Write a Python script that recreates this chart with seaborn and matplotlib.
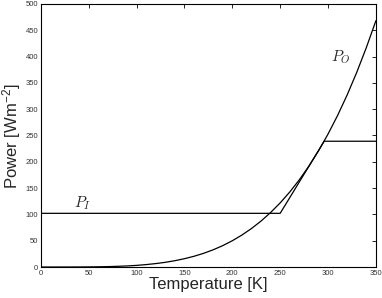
import numpy as np
import pandas as pd
import matplotlib
matplotlib.use("Agg")
import matplotlib.pyplot as plt
import seaborn as sns

# emitted power P_O every 10 K
temp_out = [0, 10, 20, 30, 40, 50, 60, 70, 80, 90, 100, 110, 120, 130, 140, 150, 160, 170,
            180, 190, 200, 210, 220, 230, 240, 250, 260, 270, 280, 290, 300, 310, 320, 330, 340, 350]
power_out = [0, 0, 0, 0.03, 0.08, 0.2, 0.4, 0.75, 1.3, 2.0, 3.1, 4.6, 6.5, 8.9, 12.0, 15.8, 20.4, 26.0,
             32.7, 40.6, 49.9, 60.7, 73.1, 87.3, 103.5, 121.8, 142.5, 165.7, 191.7, 220.6, 252.6, 288.0,
             327.0, 369.9, 416.8, 468.0]

# absorbed power P_I (piecewise)
temp_in = [0, 250, 296, 350]
power_in = [102, 102, 239, 239]

sns.set_style("white")
plt.rcParams["font.family"] = ["Liberation Sans", "DejaVu Sans"]
plt.rcParams["mathtext.fontset"] = "cm"

fig = plt.figure(figsize=(3.82, 2.98), dpi=100)
ax = fig.add_axes([0.107, 0.104, 0.877, 0.883])

df_out = pd.DataFrame({"T": temp_out, "P": power_out})
df_in = pd.DataFrame({"T": temp_in, "P": power_in})
sns.lineplot(data=df_out, x="T", y="P", color="black", lw=0.9, ax=ax)
sns.lineplot(data=df_in, x="T", y="P", color="black", lw=0.9, ax=ax)

ax.set_xlim(0, 350)
ax.set_ylim(0, 500)
ax.set_xticks(np.arange(0, 351, 50))
ax.set_yticks(np.arange(0, 501, 50))
ax.tick_params(direction="in", top=True, right=True, labelsize=5.5, length=3, width=0.6,
               pad=2, colors="black", labelcolor="#333333")
for s in ax.spines.values():
    s.set_color("black")
    s.set_linewidth(0.8)

ax.set_xlabel("Temperature [K]", fontsize=12, labelpad=0)
ax.set_ylabel("Power [Wm$^{\\mathregular{-2}}$]", fontsize=12, labelpad=2)

ax.text(303, 399, "$P_O$", fontsize=11, ha="left", va="center")
ax.text(35, 122, "$P_I$", fontsize=11, ha="left", va="center")

fig.savefig("out.png", dpi=100)
